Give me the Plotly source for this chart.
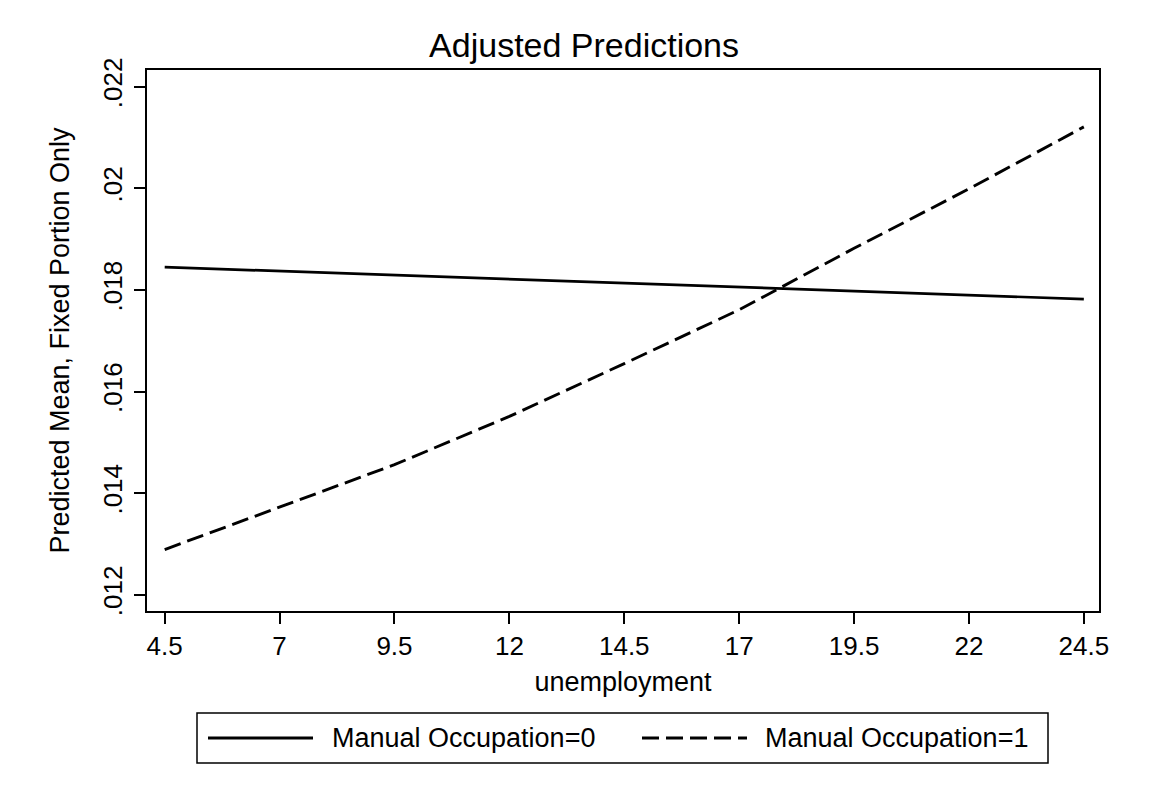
import plotly.graph_objects as go

# adjusted predictions
unemployment = [4.5, 7, 9.5, 12, 14.5, 17, 19.5, 22, 24.5]
manual_0 = [0.01845, 0.01837, 0.01829, 0.01821, 0.01813, 0.01805, 0.01797, 0.01790, 0.01782]
manual_1 = [0.01289, 0.01372, 0.01456, 0.01551, 0.01655, 0.01761, 0.01882, 0.01999, 0.02121]

x_ticks = [4.5, 7, 9.5, 12, 14.5, 17, 19.5, 22, 24.5]
x_tick_text = ['4.5', '7', '9.5', '12', '14.5', '17', '19.5', '22', '24.5']
y_ticks = [0.012, 0.014, 0.016, 0.018, 0.020, 0.022]
y_tick_text = ['.012', '.014', '.016', '.018', '.02', '.022']
series_names = ['Manual Occupation=0', 'Manual Occupation=1']

W, H = 1152, 787
ML, MR, MT, MB = 147, 53, 70, 176
FONT = 'Liberation Sans, Arial, sans-serif'
DASH = '17px,7px'


def px_x(p):
    return (p - ML) / (W - ML - MR)


def px_y(p):
    return (H - MB - p) / (H - MT - MB)


fig = go.Figure()
fig.add_trace(go.Scatter(x=unemployment, y=manual_0, mode='lines', name=series_names[0],
                         line=dict(color='black', width=2.7), showlegend=False))
fig.add_trace(go.Scatter(x=unemployment, y=manual_1, mode='lines', name=series_names[1],
                         line=dict(color='black', width=2.9, dash=DASH), showlegend=False))

# legend drawn by hand so the sample lines are as long as in Stata
fig.add_shape(type='rect', xref='paper', yref='paper',
              x0=px_x(197), x1=px_x(1048), y0=px_y(763), y1=px_y(713),
              line=dict(color='black', width=1.5), fillcolor='white')
for x0, x1, dash in [(208, 313, 'solid'), (642, 747, DASH)]:
    fig.add_shape(type='line', xref='paper', yref='paper',
                  x0=px_x(x0), x1=px_x(x1), y0=px_y(738), y1=px_y(738),
                  line=dict(color='black', width=2.8, dash=dash))
for xt, name in zip([330, 763], series_names):
    fig.add_annotation(xref='paper', yref='paper', x=px_x(xt), y=px_y(738),
                       text=name, showarrow=False, xanchor='left', yanchor='middle',
                       font=dict(size=27, color='black', family=FONT))

fig.update_layout(
    width=W, height=H,
    margin=dict(l=ML, r=MR, t=MT, b=MB),
    paper_bgcolor='white', plot_bgcolor='white',
    font=dict(family=FONT, color='black'),
    title=dict(text='Adjusted Predictions', x=0.507, xanchor='center',
               y=1 - 45 / H, yanchor='middle', font=dict(size=34, color='black')),
)
fig.update_xaxes(
    range=[4.115, 24.83], tickvals=x_ticks, ticktext=x_tick_text,
    showgrid=False, zeroline=False, showline=True, linecolor='black', linewidth=2,
    mirror=True, ticks='outside', ticklen=11, tickwidth=1.5, tickcolor='black',
    tickfont=dict(size=26), ticklabelstandoff=0,
    title=dict(text='unemployment', font=dict(size=27), standoff=12),
)
fig.update_yaxes(
    range=[0.01168, 0.02233], tickvals=y_ticks, ticktext=y_tick_text, tickangle=-90,
    showgrid=False, zeroline=False, showline=True, linecolor='black', linewidth=2,
    mirror=True, ticks='outside', ticklen=11, tickwidth=1.5, tickcolor='black',
    tickfont=dict(size=26), ticklabelstandoff=2,
    title=dict(text='Predicted Mean, Fixed Portion Only', font=dict(size=27), standoff=20),
)

# drop the browser's default body margin so the figure sits at the page corner
fig.write_html("out.html", config={'displayModeBar': False},
               post_script="document.body.style.margin='0';")
